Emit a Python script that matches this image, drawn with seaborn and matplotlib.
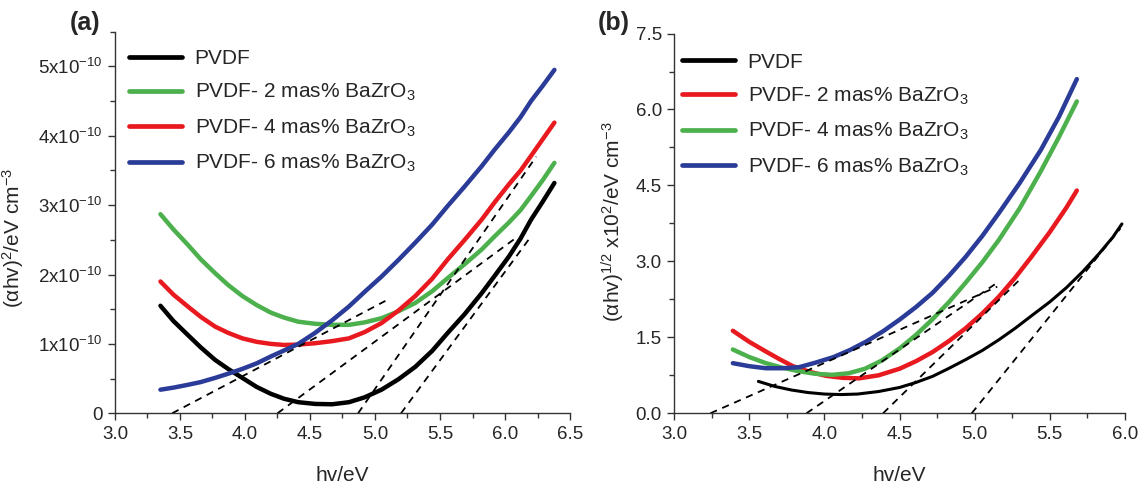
import matplotlib
matplotlib.use("Agg")
import matplotlib.pyplot as plt
from matplotlib.ticker import MultipleLocator, FixedLocator, FixedFormatter, FormatStrFormatter
import seaborn as sns

# ---------------- data: panel (a)  (y in units of 1e-10) ----------------
a_x = [3.35, 3.45, 3.56, 3.66, 3.77, 3.87, 3.98, 4.09, 4.20, 4.30, 4.41, 4.54, 4.67, 4.80,
       4.92, 5.05, 5.18, 5.31, 5.44, 5.56, 5.69, 5.82, 5.92, 6.03, 6.12, 6.20, 6.29, 6.38]
a_pvdf = [1.55, 1.33, 1.13, 0.95, 0.77, 0.64, 0.51, 0.38, 0.28, 0.21, 0.16, 0.135, 0.13, 0.16,
          0.23, 0.34, 0.49, 0.67, 0.90, 1.16, 1.43, 1.73, 1.98, 2.26, 2.52, 2.79, 3.05, 3.32]
a_2 = [2.87, 2.65, 2.43, 2.22, 2.02, 1.85, 1.69, 1.56, 1.45, 1.38, 1.32, 1.29, 1.275, 1.275,
       1.31, 1.37, 1.47, 1.59, 1.76, 1.95, 2.15, 2.36, 2.55, 2.75, 2.93, 3.13, 3.36, 3.61]
a_4 = [1.90, 1.71, 1.54, 1.39, 1.25, 1.16, 1.08, 1.03, 1.00, 0.985, 0.99, 1.01, 1.04, 1.08,
       1.17, 1.30, 1.48, 1.69, 1.94, 2.22, 2.50, 2.79, 3.04, 3.30, 3.50, 3.71, 3.95, 4.19]
a_6 = [0.34, 0.37, 0.41, 0.45, 0.51, 0.57, 0.64, 0.72, 0.82, 0.905, 1.00, 1.16, 1.34, 1.54,
       1.75, 1.97, 2.21, 2.46, 2.72, 2.99, 3.27, 3.56, 3.80, 4.05, 4.27, 4.50, 4.72, 4.95]
a_tan_x = [[3.44, 5.08], [4.25, 6.10], [4.87, 6.24], [5.20, 6.20]]
a_tan_y = [[0.0, 1.62], [0.0, 2.55], [0.0, 3.70], [0.0, 2.55]]
a_labels = ["PVDF", "PVDF- 2 mas% BaZrO$_3$", "PVDF- 4 mas% BaZrO$_3$", "PVDF- 6 mas% BaZrO$_3$"]
a_yticks = [0, 1, 2, 3, 4, 5]
a_yticklabels = ["0", "1x10$^{-10}$", "2x10$^{-10}$", "3x10$^{-10}$", "4x10$^{-10}$", "5x10$^{-10}$"]

# ---------------- data: panel (b) ----------------
b_pvdf_x = [3.56, 3.67, 3.78, 3.89, 4.00, 4.11, 4.22, 4.36, 4.50, 4.61, 4.72, 4.83, 4.94,
            5.05, 5.16, 5.27, 5.38, 5.50, 5.61, 5.72, 5.83, 5.92, 5.98]
b_pvdf = [0.63, 0.53, 0.46, 0.41, 0.38, 0.37, 0.38, 0.43, 0.51, 0.61, 0.73, 0.89, 1.06,
          1.24, 1.45, 1.68, 1.93, 2.20, 2.48, 2.80, 3.16, 3.48, 3.74]
b_2_x = [3.39, 3.50, 3.61, 3.70, 3.79, 3.90, 4.01, 4.12, 4.23, 4.36, 4.50, 4.61, 4.72, 4.83,
         4.94, 5.05, 5.16, 5.27, 5.38, 5.50, 5.61, 5.68]
b_2 = [1.63, 1.41, 1.22, 1.07, 0.93, 0.82, 0.74, 0.70, 0.69, 0.75, 0.88, 1.03, 1.21, 1.43,
       1.68, 1.97, 2.30, 2.68, 3.10, 3.58, 4.06, 4.40]
b_4_x = [3.39, 3.50, 3.61, 3.72, 3.83, 3.94, 4.05, 4.16, 4.27, 4.38, 4.50, 4.61, 4.72, 4.83,
         4.94, 5.05, 5.16, 5.30, 5.44, 5.56, 5.68]
b_4 = [1.26, 1.11, 0.99, 0.90, 0.83, 0.78, 0.76, 0.79, 0.88, 1.04, 1.28, 1.55, 1.86, 2.20,
       2.58, 2.98, 3.42, 4.05, 4.78, 5.45, 6.16]
b_6_x = [3.39, 3.50, 3.61, 3.72, 3.83, 3.94, 4.06, 4.17, 4.28, 4.39, 4.50, 4.61, 4.72, 4.83,
         4.94, 5.05, 5.16, 5.30, 5.44, 5.56, 5.68]
b_6 = [0.99, 0.93, 0.89, 0.89, 0.91, 1.00, 1.11, 1.25, 1.42, 1.62, 1.85, 2.10, 2.38, 2.72,
       3.09, 3.50, 3.95, 4.55, 5.20, 5.85, 6.60]
b_tan_x = [[3.24, 5.15], [3.88, 5.15], [4.39, 5.30], [4.98, 5.97]]
b_tan_y = [[0.0, 2.50], [0.0, 2.58], [0.0, 2.64], [0.0, 3.65]]
b_labels = ["PVDF", "PVDF- 2 mas% BaZrO$_3$", "PVDF- 4 mas% BaZrO$_3$", "PVDF- 6 mas% BaZrO$_3$"]

BLACK, GREEN, RED, BLUE = "#000000", "#4CB04C", "#E8191F", "#2B3C98"

sns.set_style("ticks")
plt.rcParams["font.family"] = ["Liberation Sans", "DejaVu Sans"]
plt.rcParams["mathtext.fontset"] = "custom"
plt.rcParams["mathtext.rm"] = "Liberation Sans"
plt.rcParams["mathtext.it"] = "Liberation Sans:italic"
plt.rcParams["mathtext.default"] = "regular"

fig = plt.figure(figsize=(11.38, 4.86), dpi=100)
ax_a = fig.add_axes([0.101, 0.1496, 0.3999, 0.7852])
ax_b = fig.add_axes([0.5925, 0.1496, 0.3960, 0.7814])

TICK_FS, LAB_FS, LEG_FS = 13.5, 15, 15


def style_axis(ax):
    sns.despine(ax=ax)
    for s in ("left", "bottom"):
        ax.spines[s].set_linewidth(1.0)
        ax.spines[s].set_color("#333333")
    ax.tick_params(which="major", direction="out", length=5, width=1.0,
                   labelsize=TICK_FS, color="#333333", pad=4)
    ax.tick_params(which="minor", direction="out", length=3.5, width=1.0, color="#333333")
    ax.set_xlabel("hv/eV", fontsize=LAB_FS)


def add_legend(ax, x0, y0):
    leg = ax.legend(loc="upper left", bbox_to_anchor=(x0, y0), frameon=False,
                    fontsize=LEG_FS, handlelength=2.55, handletextpad=0.6,
                    labelspacing=0.68, borderpad=0, borderaxespad=0)
    for h in leg.get_lines():
        h.set_linewidth(3.4)


# ---------------- panel (a) ----------------
for y, c, lab in zip([a_pvdf, a_2, a_4, a_6], [BLACK, GREEN, RED, BLUE], a_labels):
    sns.lineplot(x=a_x, y=y, ax=ax_a, color=c, lw=3.2, label=lab, sort=False,
                 estimator=None, solid_capstyle="round")
for tx, ty in zip(a_tan_x, a_tan_y):
    sns.lineplot(x=tx, y=ty, ax=ax_a, color="black", lw=1.3, legend=False,
                 sort=False, estimator=None, linestyle=(0, (4, 3.2)))

ax_a.set_xlim(3.0, 6.5)
ax_a.set_ylim(0, 5.5)
ax_a.xaxis.set_major_locator(MultipleLocator(0.5))
ax_a.xaxis.set_minor_locator(MultipleLocator(0.25))
ax_a.yaxis.set_major_locator(FixedLocator(a_yticks))
ax_a.yaxis.set_major_formatter(FixedFormatter(a_yticklabels))
ax_a.yaxis.set_minor_locator(MultipleLocator(0.5))
ax_a.xaxis.set_major_formatter(FormatStrFormatter("%.1f"))
style_axis(ax_a)
ax_a.set_ylabel("(αhv)$^2$/eV cm$^{-3}$", fontsize=LAB_FS)
ax_a.yaxis.set_label_coords(-0.195, 0.46)
ax_a.xaxis.set_label_coords(0.5, -0.138)
add_legend(ax_a, 0.031, 0.955)

# ---------------- panel (b) ----------------
for xx, y, c, lab, lw in zip([b_pvdf_x, b_2_x, b_4_x, b_6_x], [b_pvdf, b_2, b_4, b_6],
                             [BLACK, RED, GREEN, BLUE], b_labels, [2.2, 3.2, 3.2, 3.2]):
    sns.lineplot(x=xx, y=y, ax=ax_b, color=c, lw=lw, label=lab, sort=False,
                 estimator=None, solid_capstyle="round")
for tx, ty in zip(b_tan_x, b_tan_y):
    sns.lineplot(x=tx, y=ty, ax=ax_b, color="black", lw=1.3, legend=False,
                 sort=False, estimator=None, linestyle=(0, (4, 3.2)))

ax_b.set_xlim(3.0, 6.0)
ax_b.set_ylim(0, 7.5)
ax_b.xaxis.set_major_locator(MultipleLocator(0.5))
ax_b.xaxis.set_minor_locator(MultipleLocator(0.25))
ax_b.yaxis.set_major_locator(MultipleLocator(1.5))
ax_b.yaxis.set_minor_locator(MultipleLocator(0.75))
ax_b.xaxis.set_major_formatter(FormatStrFormatter("%.1f"))
ax_b.yaxis.set_major_formatter(FormatStrFormatter("%.1f"))
style_axis(ax_b)
ax_b.set_ylabel("(αhv)$^{1/2}$ x10$^2$/eV cm$^{-3}$", fontsize=LAB_FS)
ax_b.yaxis.set_label_coords(-0.105, 0.505)
ax_b.xaxis.set_label_coords(0.5, -0.138)
add_legend(ax_b, 0.017, 0.95)

fig.text(0.061, 0.977, "(a)", fontsize=18, fontweight="bold", va="top", ha="left")
fig.text(0.525, 0.977, "(b)", fontsize=18, fontweight="bold", va="top", ha="left")

fig.savefig("out.png", dpi=100)
